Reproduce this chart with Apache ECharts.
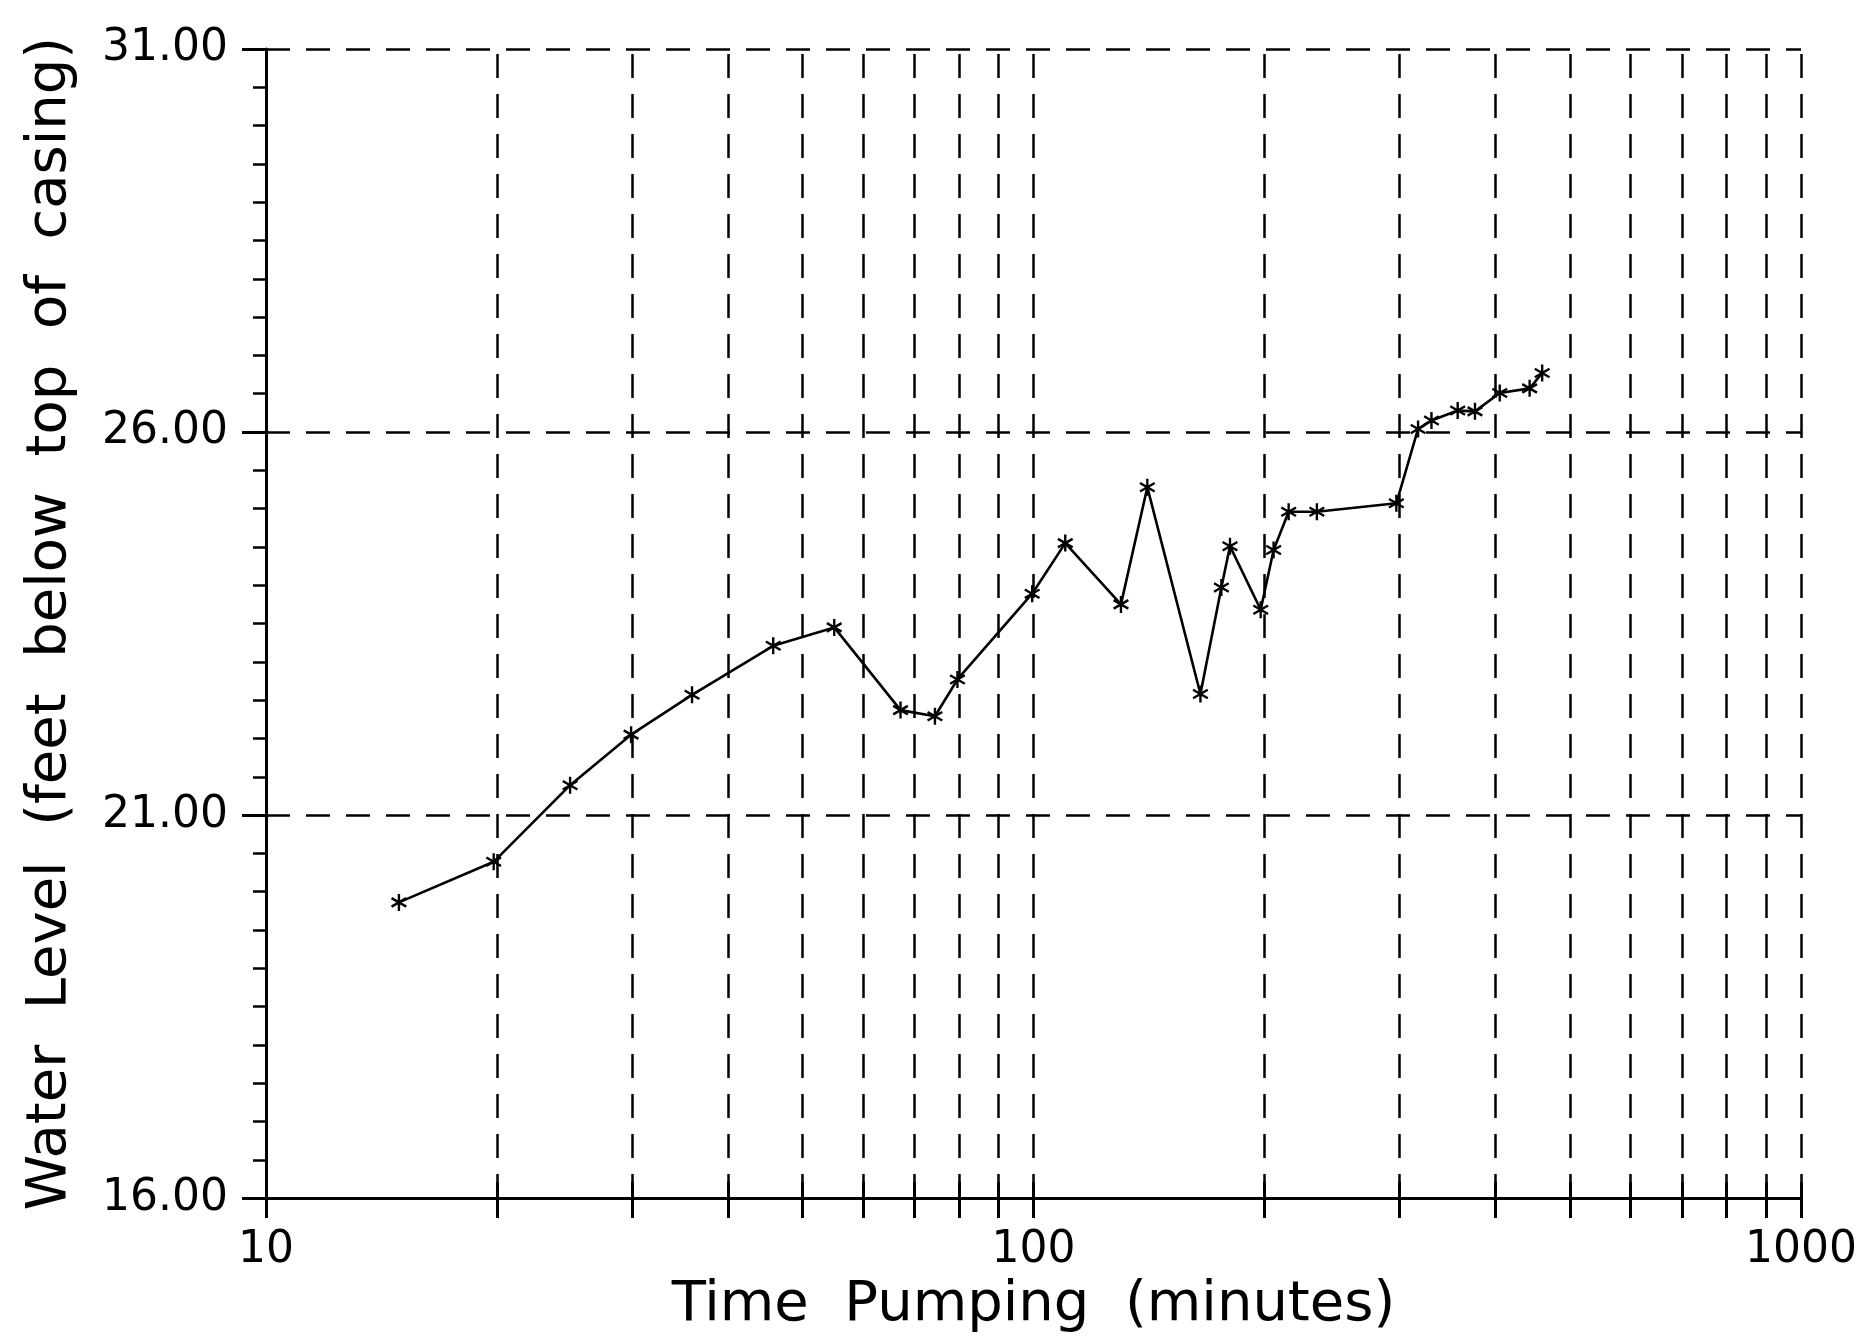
<!DOCTYPE html>
<html>
<head>
<meta charset="utf-8">
<script src="https://cdn.jsdelivr.net/npm/echarts@6/dist/echarts.min.js"></script>
<style>
html,body{margin:0;padding:0;background:#ffffff;}
#chart{width:1860px;height:1338px;}
</style>
</head>
<body>
<div id="chart"></div>
<script>
// ---- data ----
const timeMinutes = [14.9, 19.8, 24.9, 29.9, 35.9, 45.8, 55.0, 67.1, 74.4, 79.6, 99.6, 110, 130, 140.7, 165, 175.7, 180.3, 197.7, 205.5, 215, 234, 297, 317, 330, 357, 376, 405, 443, 460];
const waterLevel  = [19.86, 20.39, 21.39, 22.05, 22.57, 23.21, 23.45, 22.37, 22.29, 22.77, 23.89, 24.55, 23.75, 25.28, 22.58, 23.97, 24.51, 23.68, 24.46, 24.96, 24.96, 25.07, 26.04, 26.15, 26.28, 26.27, 26.51, 26.57, 26.77];
const xTickValues = [10, 20, 30, 40, 50, 60, 70, 80, 90, 100, 200, 300, 400, 500, 600, 700, 800, 900, 1000];
const xLabelValues = [10, 100, 1000];
const yTickValues = [16, 21, 26, 31];
const xTitle = 'Time  Pumping  (minutes)';
const yTitle = 'Water  Level  (feet  below  top  of  casing)';

const yMin = yTickValues[0];
const yMax = yTickValues[yTickValues.length - 1];
const yStep = yTickValues[1] - yTickValues[0];

const asterisk = 'path://M-1.4,-10L1.4,-10L1.4,10L-1.4,10Z M9.36,3.79L7.96,6.21L-9.36,-3.79L-7.96,-6.21Z M-7.96,6.21L-9.36,3.79L7.96,-6.21L9.36,-3.79Z';

const FONT = 'DejaVu Sans';

const gridLines = xTickValues.filter(v => v > xTickValues[0]).map(v => [
  { coord: [v, yMin] }, { coord: [v, yMax] }
]);
// upper (inside) half of the crossing tick marks on the time axis
const tickMarksInside = xTickValues.map(v => [
  { coord: [v, yMin], lineStyle: { type: 'solid', width: 3, color: '#000' } },
  { coord: [v, yMin + 0.21] }
]);

const chart = echarts.init(document.getElementById('chart'), null, { renderer: 'canvas' });
chart.setOption({
  backgroundColor: '#ffffff',
  animation: false,
  grid: { left: 266, right: 49, top: 49, bottom: 138, containLabel: false },
  xAxis: {
    type: 'log',
    logBase: 10,
    min: 10,
    max: 1000,
    name: xTitle,
    nameLocation: 'middle',
    nameGap: 57,
    nameTextStyle: { fontFamily: FONT, fontSize: 56, color: '#000' },
    axisLine: { show: true, lineStyle: { color: '#000', width: 3 } },
    axisTick: { show: true, inside: false, length: 20, customValues: xTickValues, lineStyle: { color: '#000', width: 3 } },
    splitLine: { show: false },
    minorTick: { show: false },
    axisLabel: {
      fontFamily: FONT, fontSize: 44, color: '#000', margin: 30,
      customValues: xLabelValues,
      formatter: v => String(Math.round(v))
    }
  },
  yAxis: {
    type: 'value',
    min: yMin,
    max: yMax,
    interval: yStep,
    name: yTitle,
    nameLocation: 'middle',
    nameGap: 188,
    nameTextStyle: { fontFamily: FONT, fontSize: 56, color: '#000' },
    axisLine: { show: true, lineStyle: { color: '#000', width: 3 } },
    axisTick: { show: true, inside: false, length: 24, lineStyle: { color: '#000', width: 3 } },
    minorTick: { show: true, splitNumber: 10, length: 13, lineStyle: { color: '#000', width: 2.5 } },
    minorSplitLine: { show: false },
    splitLine: { show: true, lineStyle: { color: '#000', width: 2.5, type: [24, 16] } },
    axisLabel: {
      fontFamily: FONT, fontSize: 44, color: '#000', margin: 38,
      formatter: v => v.toFixed(2)
    }
  },
  series: [
    {
      type: 'line',
      data: [],
      silent: true,
      z: 1,
      markLine: {
        silent: true,
        symbol: ['none', 'none'],
        label: { show: false },
        lineStyle: { color: '#000', width: 2.5, type: [24, 16] },
        data: gridLines.concat(tickMarksInside)
      }
    },
    {
      type: 'line',
      z: 5,
      data: timeMinutes.map((t, i) => [t, waterLevel[i]]),
      symbol: asterisk,
      symbolSize: 17,
      symbolKeepAspect: true,
      showAllSymbol: true,
      lineStyle: { color: '#000', width: 2.6 },
      itemStyle: { color: '#000' }
    }
  ]
});
</script>
</body>
</html>
